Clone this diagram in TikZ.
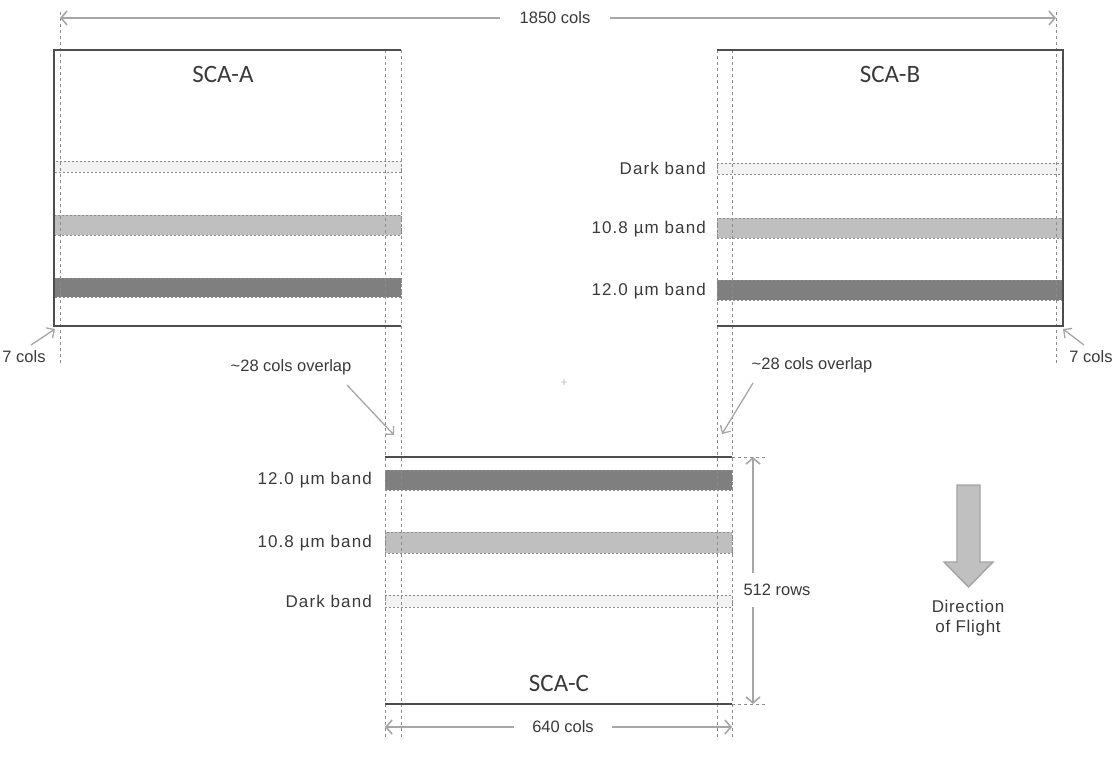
\documentclass[tikz,border=0pt]{standalone}
\usepackage{fontspec}
\setmainfont{Liberation Sans}
\newfontfamily\scafont{Carlito}
\newfontfamily\spacedfont[LetterSpace=6.5]{Liberation Sans}
\newfontfamily\dirfont[LetterSpace=4]{Liberation Sans}
\usetikzlibrary{arrows.meta}
\definecolor{boxline}{HTML}{4D4D4D}
\definecolor{dashline}{HTML}{8C8C8C}
\definecolor{dimline}{HTML}{A6A6A6}
\definecolor{darkfill}{HTML}{F2F2F2}
\definecolor{midfill}{HTML}{BFBFBF}
\definecolor{deepfill}{HTML}{7F7F7F}
\definecolor{txt}{HTML}{3A3A3A}
\definecolor{flightfill}{HTML}{C0C0C0}
\definecolor{flightline}{HTML}{A3A3A3}
\tikzset{
  boxedge/.style={draw=boxline, line width=1.8pt},
  guide/.style={draw=dashline, line width=0.9pt, dash pattern=on 3pt off 3pt},
  dimarrow/.style={draw=dimline, line width=1.6pt, {Straight Barb[length=6pt,width=14pt]}-{Straight Barb[length=6pt,width=14pt]}},
  ptr/.style={draw=dimline, line width=1.3pt, -{Straight Barb[length=6pt,width=12pt]}},
  bandedge/.style={draw=dashline, line width=0.6pt, dash pattern=on 2pt off 2pt},
  darkband/.style={bandedge, fill=darkfill},
  midband/.style={bandedge, fill=midfill},
  deepband/.style={bandedge, fill=deepfill},
  lab/.style={font=\fontsize{16.5}{18}\selectfont, text=txt, inner sep=0pt},
  bandlab/.style={font=\spacedfont\fontsize{17}{19}\selectfont, text=txt, inner sep=0pt, anchor=east},
  scalab/.style={font=\scafont\fontsize{25}{28}\selectfont, text=txt, inner sep=0pt},
}
\begin{document}
\begin{tikzpicture}[x=1pt,y=-1pt]
\useasboundingbox (0,0) rectangle (1113,762);
% bands A
\draw[darkband] (54,161) rectangle (401,172);
\draw[midband] (54,215) rectangle (401,235);
\draw[deepband] (54,278) rectangle (401,297);
% bands B
\draw[darkband] (717,163) rectangle (1063,174);
\draw[midband] (717,218) rectangle (1063,238);
\draw[deepband] (717,280) rectangle (1063,300);
% bands C
\draw[deepband] (385,470) rectangle (732,490);
\draw[midband] (385,532) rectangle (732,553);
\draw[darkband] (385,595) rectangle (732,607);
% guides
\coordinate (gA1) at (60,12);   \coordinate (gA2) at (60,365);
\coordinate (gB1) at (1056,12); \coordinate (gB2) at (1056,365);
\draw[guide] (gA1) -- (gA2);
\draw[guide] (gB1) -- (gB2);
\foreach \gx in {385,401,717,732} { \draw[guide] (\gx,50) -- (\gx,737); }
\draw[guide] (732,457) -- (766,457);
\draw[guide] (732,704) -- (766,704);
% boxes
\draw[boxedge] (401,50) -- (54,50) -- (54,326) -- (401,326);
\draw[boxedge] (717,50) -- (1063,50) -- (1063,326) -- (717,326);
\draw[boxedge] (385,457) -- (732,457);
\draw[boxedge] (385,704) -- (732,704);
% box labels
\node[scalab] (scaA) at (223,74) {SCA-A};
\node[scalab] (scaB) at (890,74) {SCA-B};
\node[scalab] (scaC) at (559,683) {SCA-C};
% band labels B
\node[bandlab] (bdB) at (706,168) {Dark band};
\node[bandlab] (b10B) at (706,229) {10.8 µm band};
\node[bandlab] (b12B) at (706,291) {12.0 µm band};
% band labels C
\node[bandlab] (b12C) at (372,480) {12.0 µm band};
\node[bandlab] (b10C) at (372,543) {10.8 µm band};
\node[bandlab] (bdC) at (372,601) {Dark band};
% top dimension
\coordinate (t1) at (60,18); \coordinate (t2) at (1056,18);
\draw[dimarrow] (t1) -- (t2);
\node[lab, fill=white, inner xsep=20pt, inner ysep=4pt] (w1850) at (555,18) {1850 cols};
% bottom dimension
\coordinate (c1) at (385,727); \coordinate (c2) at (732,727);
\draw[dimarrow] (c1) -- (c2);
\node[lab, fill=white, inner xsep=18pt, inner ysep=4pt] (w640) at (563,727) {640 cols};
% rows dimension
\coordinate (r1) at (753,457); \coordinate (r2) at (753,704);
\draw[dimarrow] (r1) -- (r2);
\node[lab, fill=white, inner xsep=2pt, inner ysep=11pt] (h512) at (777,590) {512 rows};
% 7 cols labels
\node[lab] (sevL) at (24,357) {7 cols};
\node[lab] (sevR) at (1091,357) {7 cols};
\coordinate (cornA) at (55,329);
\coordinate (cornB) at (1063,329);
\draw[ptr] (31,345) -- (cornA);
\draw[ptr] (1084,345) -- (cornB);
% overlap labels
\node[lab] (ovL) at (291,367) {\char`\~28 cols overlap};
\node[lab] (ovR) at (812,365) {\char`\~28 cols overlap};
\coordinate (ovLt) at (394,435);
\coordinate (ovRt) at (722,434);
\draw[ptr] (347,385) -- (ovLt);
\draw[ptr] (753,383) -- (ovRt);
% center mark
\node[text=flightfill, font=\fontsize{12}{13}\selectfont, inner sep=0pt] (mark) at (564,383) {+};
% direction of flight
\draw[fill=flightfill, draw=flightline, line width=1.4pt, line join=miter]
  (957,485) -- (980,485) -- (980,562) -- (993,562) -- (968.5,587) -- (944,562) -- (957,562) -- cycle;
\node[lab, font=\dirfont\fontsize{17}{20.5}\selectfont, align=center] (dof) at (968,618) {Direction\\of Flight};
\end{tikzpicture}
\end{document}
